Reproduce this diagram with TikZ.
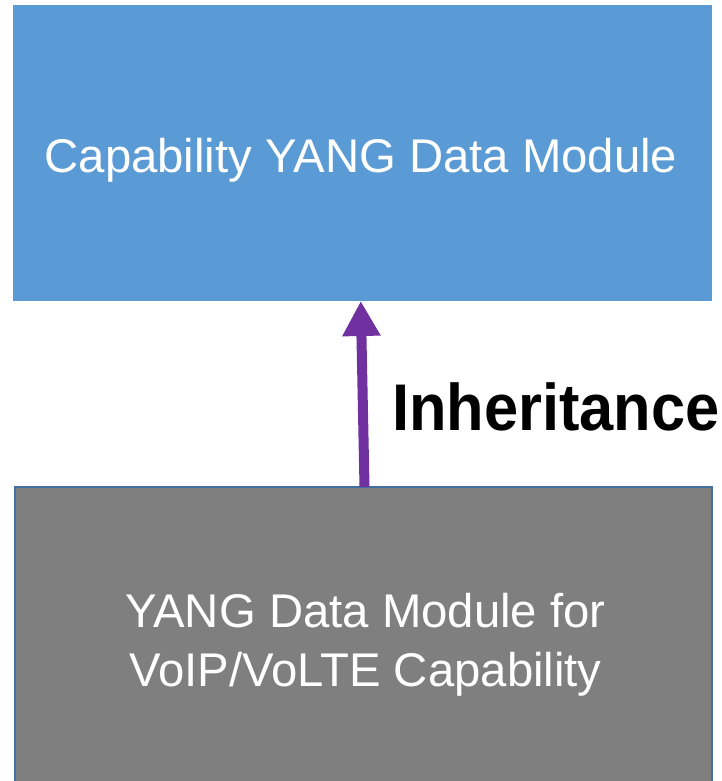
\documentclass[tikz,border=0pt]{standalone}
\usepackage{fontspec}
\setmainfont{Liberation Sans}
\usetikzlibrary{arrows.meta}
\definecolor{boxblue}{HTML}{5B9BD5}
\definecolor{boxgray}{HTML}{7F7F7F}
\definecolor{edgeblue}{HTML}{41719C}
\definecolor{arrowpurple}{HTML}{7030A0}
\tikzset{
  modbox/.style={rectangle, inner sep=0pt, outer sep=0pt},
  boxtext/.style={text=white, font=\fontsize{47.3}{59}\selectfont, anchor=base, inner sep=0pt},
  inherit/.style={draw=arrowpurple, line width=10pt, -{Triangle[width=36pt,length=35pt]}},
}
\begin{document}
\begin{tikzpicture}[x=1pt,y=1pt]
\useasboundingbox (0,0) rectangle (721,-781);
\clip (0,0) rectangle (721,-781);
% top box
\node[modbox, fill=boxblue, minimum width=699.5pt, minimum height=296pt, anchor=north west] (top) at (12.5,-5) {};
\node[boxtext] (toptext) at (361,-172) {Capability YANG Data Module};
% bottom box
\node[modbox, fill=boxgray, draw=edgeblue, line width=2pt, minimum width=697pt, minimum height=300pt, anchor=north west] (bot) at (15,-487) {};
\node[boxtext] (bottext1) at (365.5,-627) {YANG Data Module for};
\node[boxtext] (bottext2) at (365.5,-686) {VoIP/VoLTE Capability};
% arrow
\draw[inherit] ([xshift=1pt]bot.north) -- ([xshift=-1.5pt]top.south);
\node[anchor=base west, inner sep=0pt, font=\fontsize{66}{70}\selectfont\bfseries] (inh) at (392,-430) {\scalebox{0.93}[1]{Inheritance}};
\end{tikzpicture}
\end{document}
